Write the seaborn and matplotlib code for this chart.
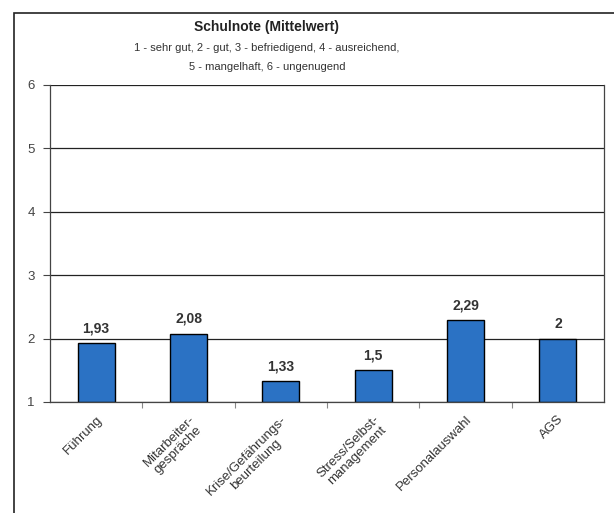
import matplotlib
matplotlib.use("Agg")
import matplotlib.pyplot as plt
import seaborn as sns
import pandas as pd
from matplotlib.patches import Rectangle

categories = ["Führung", "Mitarbeiter-\ngespräche", "Krise/Gefährungs-\nbeurteilung",
              "Stress/Selbst-\nmanagement", "Personalauswahl", "AGS"]
values = [1.93, 2.08, 1.33, 1.5, 2.29, 2.0]
value_labels = ["1,93", "2,08", "1,33", "1,5", "2,29", "2"]
y_ticks = [1, 2, 3, 4, 5, 6]

df = pd.DataFrame({"Bereich": categories, "Note": values})

sns.set_theme(style="ticks")
plt.rcParams["font.family"] = ["Liberation Sans", "DejaVu Sans"]

fig = plt.figure(figsize=(6.14, 5.13), dpi=100)
ax = fig.add_axes([50 / 614, 1 - 402 / 513, 554 / 614, 317 / 513])

sns.barplot(data=df, x="Bereich", y="Note", ax=ax, color="#2b72c4",
            saturation=1, width=0.4, edgecolor="black", linewidth=1.0)

# bars start at grade 1
for patch, v in zip(ax.patches, values):
    patch.set_y(1)
    patch.set_height(v - 1)

ax.set_ylim(1, 6)
ax.set_xlim(-0.5, len(categories) - 0.5)
ax.set_yticks(y_ticks)
ax.set_yticklabels([str(t) for t in y_ticks], fontsize=9.5, color="#444444")
ax.yaxis.grid(True, color="#222222", linewidth=0.9)
ax.set_axisbelow(True)
ax.set_xlabel("")
ax.set_ylabel("")

for side in ["left", "right", "bottom"]:
    ax.spines[side].set_visible(True)
    ax.spines[side].set_color("#444444")
    ax.spines[side].set_linewidth(0.9)
ax.spines["top"].set_visible(False)

ax.tick_params(axis="y", left=True, direction="out", length=5, width=0.8,
               color="#444444", pad=6)
ax.set_xticks(range(len(categories)))
ax.set_xticklabels(categories, rotation=45, ha="right", rotation_mode="anchor",
                   fontsize=9.5, color="#333333", multialignment="center",
                   linespacing=1.1)
ax.tick_params(axis="x", which="major", bottom=False, pad=2)
ax.set_xticks([i + 0.5 for i in range(len(categories) - 1)], minor=True)
ax.tick_params(axis="x", which="minor", bottom=True, direction="out", length=4,
               width=0.8, color="#888888")

for i, (v, lab) in enumerate(zip(values, value_labels)):
    ax.text(i, v + 0.12, lab, ha="center", va="bottom", fontsize=10,
            fontweight="bold", color="#333333")

cx = 267 / 614
fig.text(cx, 1 - 27 / 513, "Schulnote (Mittelwert)", ha="center", va="center",
         fontsize=10, fontweight="bold", color="#222222")
fig.text(cx, 1 - 48 / 513, "1 - sehr gut, 2 - gut, 3 - befriedigend, 4 - ausreichend,",
         ha="center", va="center", fontsize=8, color="#333333")
fig.text(cx, 1 - 67 / 513, "5 - mangelhaft, 6 - ungenugend",
         ha="center", va="center", fontsize=8, color="#333333")

# outer frame
fig.patches.append(Rectangle((14 / 614, -0.1), 1.2, 1 - 13 / 513 + 0.1,
                             transform=fig.transFigure, fill=False,
                             edgecolor="#222222", linewidth=1.2))

fig.savefig("out.png", dpi=100)
